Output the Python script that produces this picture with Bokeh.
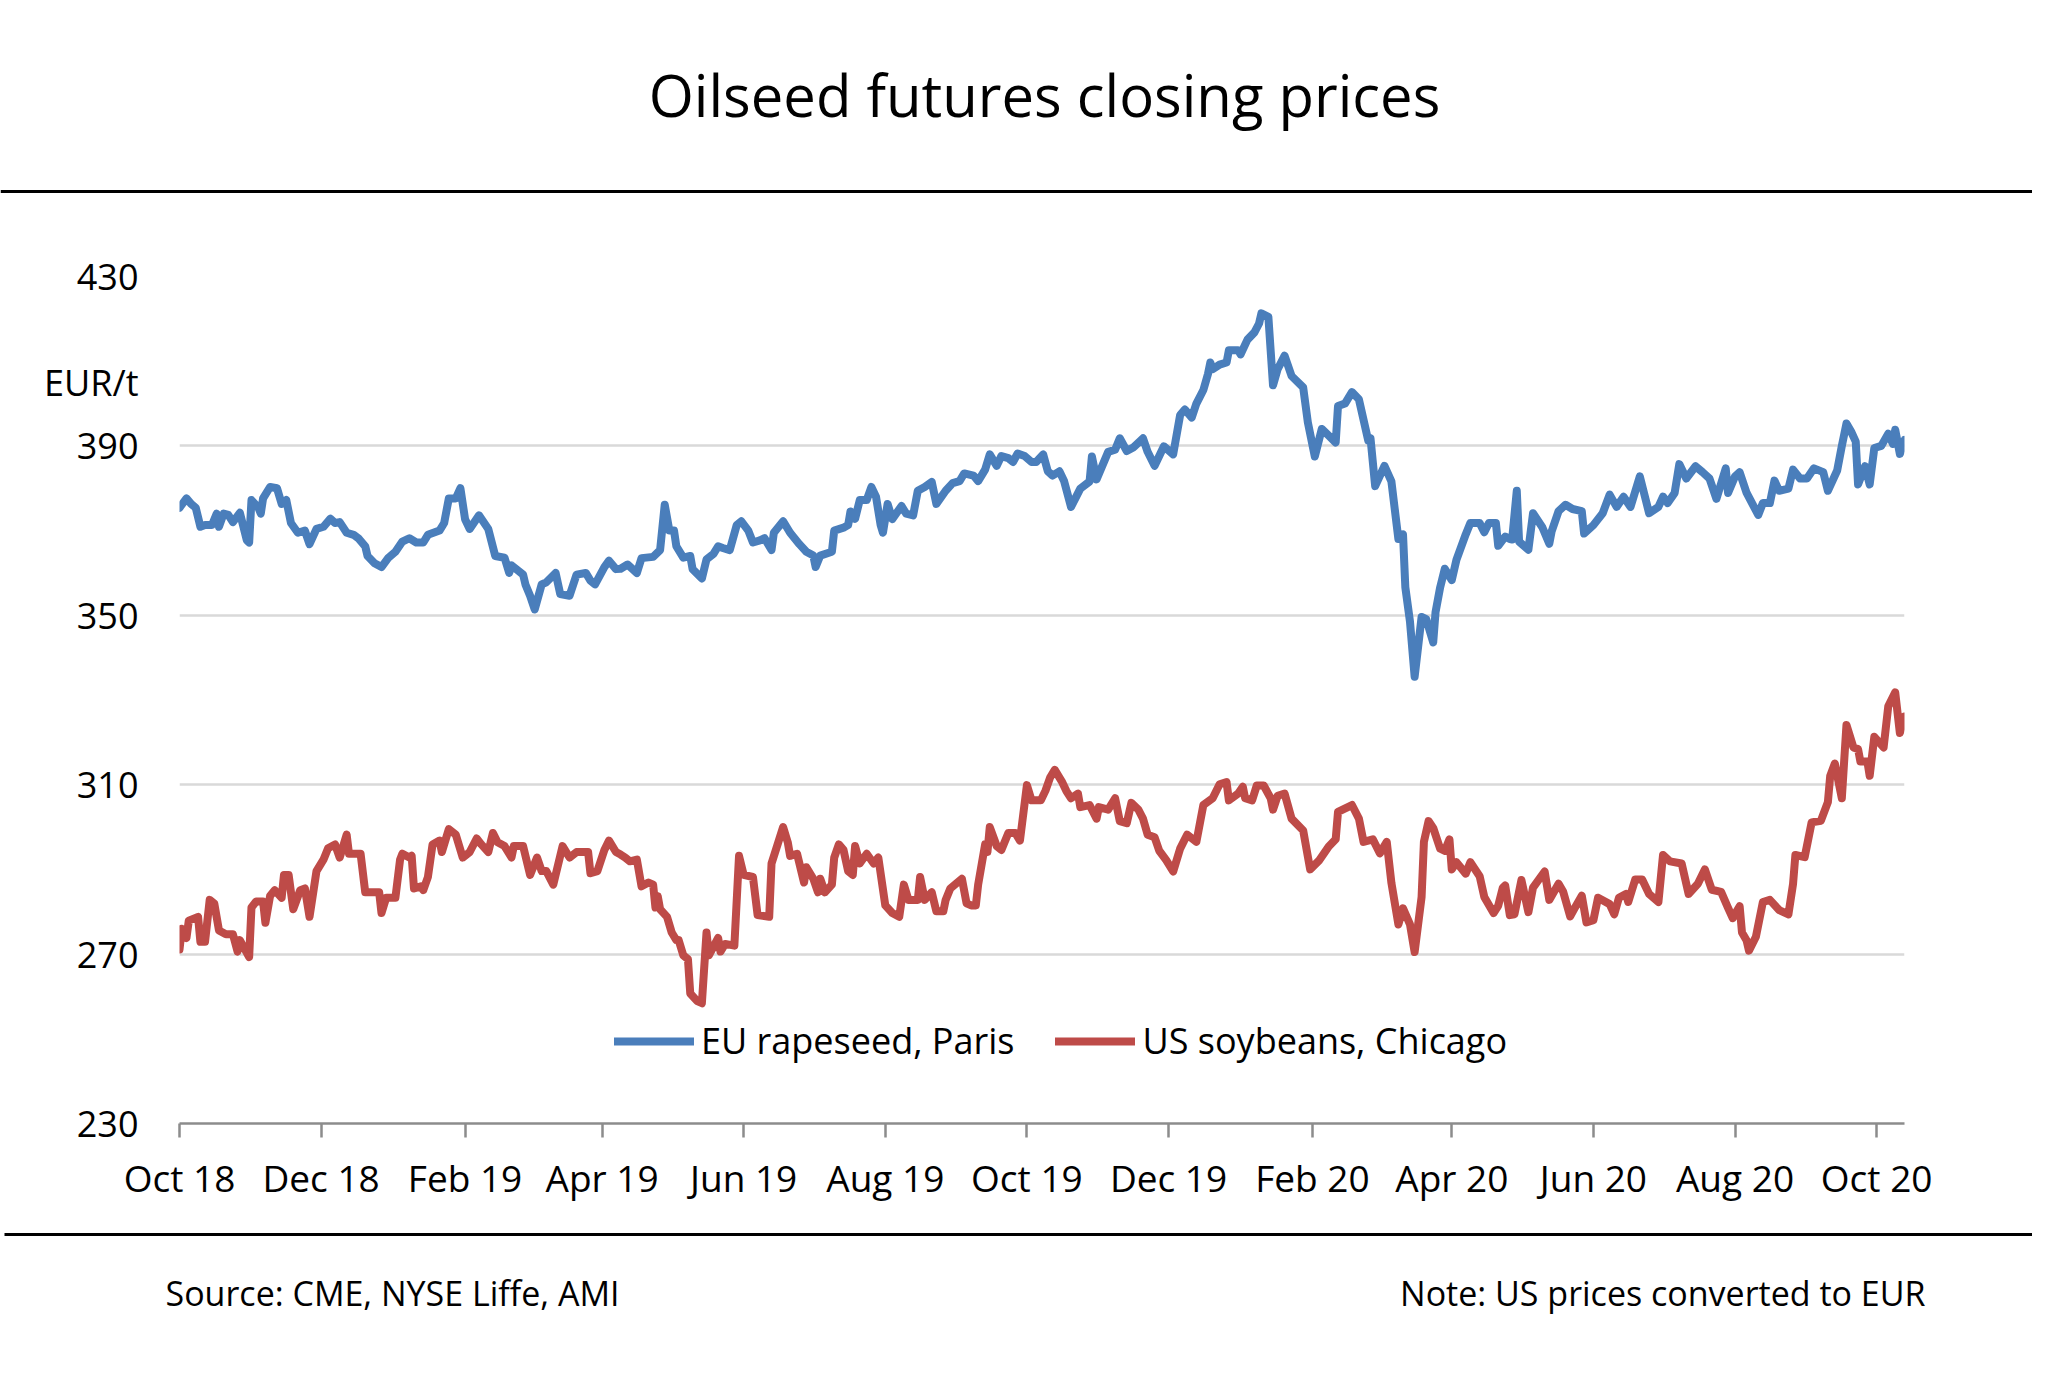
import pandas as pd
from bokeh.plotting import figure
from bokeh.layouts import column
from bokeh.models import Range1d, FixedTicker, Legend, LegendItem, ColumnDataSource
from bokeh.core.properties import value
from bokeh.embed import file_html
from bokeh.resources import INLINE

# ---------------- data ----------------
start_date = "2018-10-01"
tick_dates = ["2018-10-01", "2018-12-01", "2019-02-01", "2019-04-01", "2019-06-01", "2019-08-01",
              "2019-10-01", "2019-12-01", "2020-02-01", "2020-04-01", "2020-06-01", "2020-08-01",
              "2020-10-01"]
tick_labels = ["Oct 18", "Dec 18", "Feb 19", "Apr 19", "Jun 19", "Aug 19", "Oct 19", "Dec 19",
               "Feb 20", "Apr 20", "Jun 20", "Aug 20", "Oct 20"]
y_ticks = [230, 270, 310, 350, 390, 430]
unit_tick = 405  # position of the "EUR/t" caption on the value axis

# days since 2018-10-01
rapeseed_day = [0, 3, 5, 7, 9, 11, 14, 16, 17, 19, 21, 23, 26, 29, 30, 31, 34, 35, 36, 39, 42, 44, 46, 48, 51,
                54, 56, 59, 62, 65, 67, 69, 72, 75, 77, 80, 81, 84, 87, 90, 93, 96, 99, 102, 105, 107, 112,
                114, 116, 119, 121, 123, 125, 129, 133, 136, 140, 142, 143, 146, 148, 149, 151, 153, 156, 158,
                162, 164, 168, 171, 175, 177, 179, 183, 185, 188, 190, 193, 197, 199, 204, 207, 209, 211, 213,
                214, 217, 220, 221, 225, 227, 230, 232, 234, 237, 240, 242, 245, 247, 250, 252, 255, 256, 260,
                263, 267, 270, 273, 274, 276, 281, 282, 286, 288, 289, 291, 293, 296, 298, 300, 302, 303, 305,
                307, 311, 313, 316, 318, 321, 324, 326, 330, 333, 336, 338, 342, 344, 347, 349, 352, 354, 357,
                359, 361, 364, 367, 369, 372, 374, 376, 379, 381, 384, 388, 392, 393, 395, 400, 403, 405, 408,
                411, 415, 417, 420, 424, 428, 431, 433, 436, 438, 441, 443, 444, 445, 448, 451, 452, 456, 457,
                460, 463, 465, 466, 469, 471, 473, 476, 477, 479, 484, 486, 489, 492, 495, 498, 499, 502, 505,
                508, 512, 513, 515, 519, 522, 525, 527, 528, 530, 532, 535, 537, 540, 541, 543, 545, 548, 550,
                554, 556, 560, 562, 564, 567, 568, 571, 573, 574, 576, 577, 581, 583, 587, 590, 591, 594, 597,
                600, 604, 605, 609, 613, 616, 619, 622, 625, 629, 633, 637, 639, 641, 644, 646, 649, 653, 656,
                659, 662, 666, 667, 670, 672, 675, 680, 682, 685, 687, 689, 693, 695, 698, 701, 704, 708, 710,
                714, 716, 718, 720, 722, 723, 726, 728, 730, 733, 736, 738, 739, 741, 743]
rapeseed_eur = [375.4, 377.6, 376.3, 375.4, 370.9, 371.3, 371.3, 374.0, 370.9, 374.0, 373.7, 372.0, 374.2,
                367.7, 367.2, 377.2, 375.4, 374.0, 377.6, 380.3, 380.0, 376.3, 377.2, 371.8, 369.5, 370.0,
                366.8, 370.4, 370.9, 372.8, 371.8, 372.0, 369.5, 369.0, 368.2, 366.3, 364.0, 362.3, 361.4,
                363.6, 365.0, 367.4, 368.2, 367.2, 367.2, 369.0, 370.0, 371.8, 377.6, 377.6, 380.0, 372.7,
                370.4, 373.6, 370.4, 364.0, 363.6, 360.0, 361.8, 360.5, 359.6, 357.3, 354.6, 351.4, 357.3,
                357.8, 360.0, 355.0, 354.6, 359.6, 360.0, 358.2, 357.3, 361.4, 362.9, 360.9, 361.0, 362.0,
                360.0, 363.5, 363.8, 365.4, 376.1, 370.0, 370.0, 366.3, 363.6, 364.0, 360.9, 358.7, 363.2,
                364.5, 366.3, 365.9, 365.4, 371.3, 372.2, 370.0, 367.2, 367.7, 368.2, 365.4, 369.5, 372.2,
                369.5, 366.8, 365.0, 364.1, 361.4, 364.1, 365.0, 370.0, 370.7, 371.3, 374.5, 372.8, 377.2,
                377.2, 380.3, 378.0, 371.3, 369.5, 376.3, 372.7, 375.8, 374.0, 373.6, 379.4, 380.3, 381.5,
                376.3, 379.4, 381.2, 381.7, 383.5, 383.0, 381.7, 384.4, 388.0, 385.3, 387.6, 387.1, 386.2,
                388.2, 387.6, 386.2, 386.2, 388.0, 384.0, 383.0, 384.0, 381.7, 375.6, 379.9, 381.6, 387.5,
                382.1, 388.6, 389.1, 391.8, 388.8, 389.7, 391.8, 388.6, 385.3, 389.9, 388.0, 397.3, 398.6,
                396.7, 400.0, 403.2, 407.0, 409.7, 408.1, 409.2, 409.7, 412.6, 412.6, 411.6, 415.1, 416.8,
                418.9, 421.3, 420.5, 404.3, 408.1, 411.3, 409.7, 406.5, 403.8, 395.6, 387.5, 394.0, 392.4,
                390.8, 399.4, 400.0, 402.7, 401.0, 391.3, 391.8, 380.5, 385.3, 381.6, 368.0, 369.1, 356.6,
                348.5, 335.5, 349.6, 349.1, 343.6, 350.7, 356.6, 361.0, 358.3, 363.1, 369.1, 371.8, 371.8,
                369.6, 371.8, 371.8, 366.4, 368.6, 368.0, 367.9, 379.4, 367.4, 365.5, 374.1, 370.8, 366.9,
                369.8, 374.6, 376.1, 375.1, 374.6, 369.3, 371.3, 374.1, 378.5, 375.6, 378.0, 375.6, 382.8,
                374.1, 375.6, 378.0, 376.5, 378.9, 385.7, 382.3, 385.2, 383.8, 382.3, 377.5, 384.7, 378.9,
                382.8, 383.8, 378.9, 373.7, 376.5, 376.5, 381.8, 379.4, 379.9, 384.4, 382.3, 382.3, 384.7,
                383.8, 379.4, 384.2, 390.0, 395.3, 393.4, 391.0, 380.9, 385.2, 380.9, 389.5, 390.0, 392.9,
                390.5, 393.8, 388.1, 391.4]

soy_day = [0, 1, 3, 4, 8, 9, 11, 13, 15, 17, 20, 23, 25, 26, 30, 31, 33, 36, 37, 39, 41, 44, 45, 47, 49, 52,
           54, 56, 59, 62, 64, 67, 69, 72, 73, 76, 78, 80, 84, 86, 87, 89, 93, 95, 96, 99, 100, 101, 104,
           105, 107, 109, 112, 113, 116, 119, 122, 125, 128, 130, 133, 135, 137, 140, 143, 144, 148, 151,
           154, 156, 158, 161, 165, 168, 171, 176, 177, 180, 183, 185, 188, 190, 192, 194, 197, 199, 202,
           204, 205, 206, 207, 210, 212, 214, 215, 217, 219, 220, 223, 225, 227, 228, 232, 233, 235, 239,
           241, 243, 247, 248, 249, 254, 255, 260, 262, 263, 266, 269, 270, 273, 275, 276, 278, 281, 282,
           284, 286, 288, 290, 291, 293, 296, 299, 301, 304, 307, 310, 312, 314, 318, 319, 321, 324, 326,
           329, 330, 332, 337, 339, 341, 343, 344, 347, 348, 349, 352, 354, 357, 360, 362, 365, 367, 371,
           373, 375, 377, 380, 382, 384, 387, 388, 392, 395, 396, 400, 403, 405, 408, 410, 413, 415, 417,
           420, 422, 425, 428, 431, 434, 438, 441, 445, 448, 451, 452, 456, 458, 459, 462, 464, 467, 470,
           471, 473, 476, 479, 484, 487, 491, 495, 498, 499, 505, 508, 510, 514, 517, 520, 522, 525, 527,
           530, 532, 535, 536, 538, 540, 543, 545, 547, 548, 550, 554, 556, 560, 562, 566, 568, 570, 571,
           573, 575, 578, 581, 583, 588, 590, 594, 596, 599, 601, 604, 606, 609, 611, 616, 618, 620, 623,
           624, 627, 630, 633, 637, 639, 642, 647, 650, 654, 657, 660, 664, 667, 669, 672, 673, 675, 676,
           679, 682, 685, 689, 693, 695, 696, 700, 703, 707, 710, 711, 713, 716, 718, 721, 723, 724, 727,
           728, 730, 734, 736, 739, 741, 743]
soy_eur = [271.1, 276.0, 273.8, 277.9, 278.8, 272.9, 272.9, 282.8, 281.9, 275.6, 274.7, 274.7, 270.6, 273.3,
           269.3, 281.0, 282.4, 282.4, 277.4, 283.7, 285.1, 283.3, 288.7, 288.7, 280.6, 285.1, 285.5, 278.8,
           289.6, 292.3, 295.0, 295.9, 292.8, 298.2, 293.7, 293.7, 293.7, 284.6, 284.6, 284.6, 279.7, 283.3,
           283.3, 292.3, 293.7, 292.8, 293.2, 285.5, 286.0, 285.1, 288.2, 295.9, 296.8, 294.1, 299.5, 298.2,
           292.8, 294.1, 297.3, 295.9, 294.1, 298.6, 296.4, 295.5, 292.8, 295.5, 295.5, 288.7, 292.8, 289.6,
           289.6, 286.4, 295.5, 292.8, 294.1, 294.1, 289.1, 289.6, 294.6, 296.8, 294.1, 293.5, 292.8, 291.9,
           292.3, 286.0, 286.9, 286.4, 281.0, 283.7, 280.6, 278.8, 275.1, 273.3, 273.3, 269.7, 268.8, 260.7,
           258.9, 258.4, 275.1, 269.7, 273.8, 270.6, 272.4, 272.0, 293.2, 288.7, 288.2, 283.7, 279.2, 278.8,
           291.4, 300.0, 296.4, 293.2, 293.7, 286.9, 290.5, 287.8, 284.6, 287.8, 284.6, 286.4, 292.8, 295.9,
           294.6, 289.6, 288.7, 295.5, 291.4, 293.7, 291.4, 292.8, 281.5, 279.7, 278.8, 286.4, 282.8, 282.8,
           288.2, 282.8, 284.6, 280.1, 280.1, 282.8, 285.5, 287.8, 282.0, 281.5, 281.5, 286.4, 295.9, 294.1,
           300.0, 295.5, 294.6, 298.6, 298.6, 296.8, 309.9, 306.3, 306.3, 308.6, 311.7, 313.5, 310.8, 308.5,
           306.8, 307.9, 304.7, 305.2, 302.0, 304.7, 304.1, 306.8, 301.4, 300.9, 305.7, 304.1, 302.0, 298.2,
           297.6, 294.4, 292.2, 289.5, 294.9, 298.2, 296.5, 305.2, 306.8, 310.1, 310.6, 306.3, 307.9, 309.5,
           306.8, 306.3, 309.8, 309.8, 306.8, 304.1, 307.4, 307.9, 302.0, 299.2, 290.0, 292.2, 295.4, 297.1,
           303.6, 305.2, 302.0, 296.5, 297.1, 293.8, 296.5, 286.8, 277.0, 280.8, 277.0, 270.5, 283.5, 296.5,
           301.4, 299.8, 294.9, 294.4, 297.1, 290.0, 291.7, 289.0, 291.7, 288.4, 283.5, 279.7, 281.4, 285.7,
           286.2, 279.2, 279.4, 287.5, 279.9, 285.7, 289.5, 282.8, 286.6, 284.7, 278.9, 280.9, 283.8, 277.5,
           278.0, 283.3, 281.8, 279.4, 283.3, 284.2, 282.3, 287.6, 287.6, 284.2, 282.3, 293.4, 291.9, 291.4,
           284.2, 286.6, 290.0, 285.2, 284.7, 280.9, 278.5, 281.3, 275.1, 273.2, 270.8, 274.1, 282.3, 282.8,
           280.4, 279.4, 286.6, 293.4, 292.9, 301.1, 301.5, 305.9, 312.1, 315.0, 306.8, 324.1, 318.8, 318.4,
           315.5, 315.5, 312.1, 321.3, 318.8, 328.5, 331.8, 322.2, 326.1]

series_names = ["EU rapeseed, Paris", "US soybeans, Chicago"]
series_colors = ["#4A7EBB", "#BE4B48"]
title_text = "Oilseed futures closing prices"
unit_text = "EUR/t"
source_text = "Source:  CME, NYSE Liffe, AMI"
note_text = "Note: US prices converted to EUR"

# ---------------- layout constants (pixels) ----------------
FONT = "Open Sans"
W = 2032
H_HEAD, H_CHART, H_FOOT = 200, 1015, 160
FRAME_L, FRAME_R = 179, 1904
FRAME_T, FRAME_B = 276, 1123      # absolute page pixels


def blank_panel(h):
    f = figure(width=W, height=h, output_backend="svg", toolbar_location=None,
               x_range=Range1d(0, W), y_range=Range1d(h, 0),
               x_axis_type=None, y_axis_type=None, min_border=0)
    f.frame_align = False
    f.title.visible = False
    f.outline_line_color = None
    f.xgrid.visible = False
    f.ygrid.visible = False
    f.background_fill_color = "white"
    f.border_fill_color = "white"
    return f


# ---------------- header ----------------
head = blank_panel(H_HEAD)
head.text(x=[1044], y=[94], text=[title_text], text_align="center", text_baseline="alphabetic",
          text_font=value(FONT), text_font_size=value("58px"), text_color="black")
head.segment(x0=[0], x1=[W], y0=[191], y1=[191], line_color="black", line_width=3)

# ---------------- chart ----------------
t0 = pd.Timestamp(start_date)
tick_days = [(pd.Timestamp(d) - t0).days for d in tick_dates]

p = figure(width=W, height=H_CHART, output_backend="svg", toolbar_location=None,
           x_range=Range1d(0, 743), y_range=Range1d(230, 430),
           min_border_left=FRAME_L, min_border_right=W - FRAME_R,
           min_border_top=FRAME_T - H_HEAD, min_border_bottom=H_HEAD + H_CHART - FRAME_B)
p.frame_align = False
p.title.visible = False
p.outline_line_color = None
p.background_fill_color = "white"
p.border_fill_color = "white"

p.xgrid.grid_line_color = None
p.ygrid.grid_line_color = "#D9D9D9"
p.ygrid.grid_line_width = 2.5
p.ygrid.ticker = FixedTicker(ticks=y_ticks)

p.yaxis.ticker = FixedTicker(ticks=y_ticks + [unit_tick], minor_ticks=[])
p.yaxis.major_label_overrides = {unit_tick: unit_text}
p.yaxis.axis_line_color = None
p.yaxis.major_tick_line_color = None
p.yaxis.minor_tick_line_color = None
p.yaxis.major_tick_out = 0
p.yaxis.major_tick_in = 0
p.yaxis.major_label_standoff = 41
p.yaxis.major_label_text_font = FONT
p.yaxis.major_label_text_font_size = "36px"
p.yaxis.major_label_text_color = "black"

p.xaxis.ticker = FixedTicker(ticks=tick_days, minor_ticks=[])
p.xaxis.major_label_overrides = {d: lab for d, lab in zip(tick_days, tick_labels)}
p.xaxis.axis_line_color = "#8C8C8C"
p.xaxis.axis_line_width = 2.5
p.xaxis.major_tick_line_color = "#8C8C8C"
p.xaxis.major_tick_line_width = 2.5
p.xaxis.major_tick_out = 14
p.xaxis.major_tick_in = 0
p.xaxis.minor_tick_line_color = None
p.xaxis.major_label_standoff = 14
p.xaxis.major_label_text_font = FONT
p.xaxis.major_label_text_font_size = "37px"
p.xaxis.major_label_text_color = "black"

src_b = ColumnDataSource(dict(x=rapeseed_day, y=rapeseed_eur))
src_r = ColumnDataSource(dict(x=soy_day, y=soy_eur))
rb = p.line("x", "y", source=src_b, line_color=series_colors[0], line_width=8,
            line_join="round", line_cap="round")
rr = p.line("x", "y", source=src_r, line_color=series_colors[1], line_width=8,
            line_join="round", line_cap="round")

legend = Legend(items=[LegendItem(label=series_names[0], renderers=[rb]),
                       LegendItem(label=series_names[1], renderers=[rr])],
                location=(435, 58), orientation="horizontal",
                glyph_width=80, glyph_height=20, label_standoff=7, spacing=41,
                padding=0, margin=0, border_line_color=None, background_fill_alpha=0,
                label_text_font=FONT, label_text_font_size="36px", label_text_color="black")
p.add_layout(legend)

# ---------------- footer ----------------
foot = blank_panel(H_FOOT)
y0 = H_HEAD + H_CHART
foot.segment(x0=[4], x1=[W], y0=[1234 - y0], y1=[1234 - y0], line_color="black", line_width=3)
foot.text(x=[165], y=[1292 - y0], text=[source_text], text_align="left", text_baseline="alphabetic",
          text_font=value(FONT), text_font_size=value("34px"), text_color="black")
foot.text(x=[1925], y=[1292 - y0], text=[note_text], text_align="right", text_baseline="alphabetic",
          text_font=value(FONT), text_font_size=value("34px"), text_color="black")

layout = column(head, p, foot, spacing=0)
open("out.html", "w").write(file_html(layout, INLINE))
